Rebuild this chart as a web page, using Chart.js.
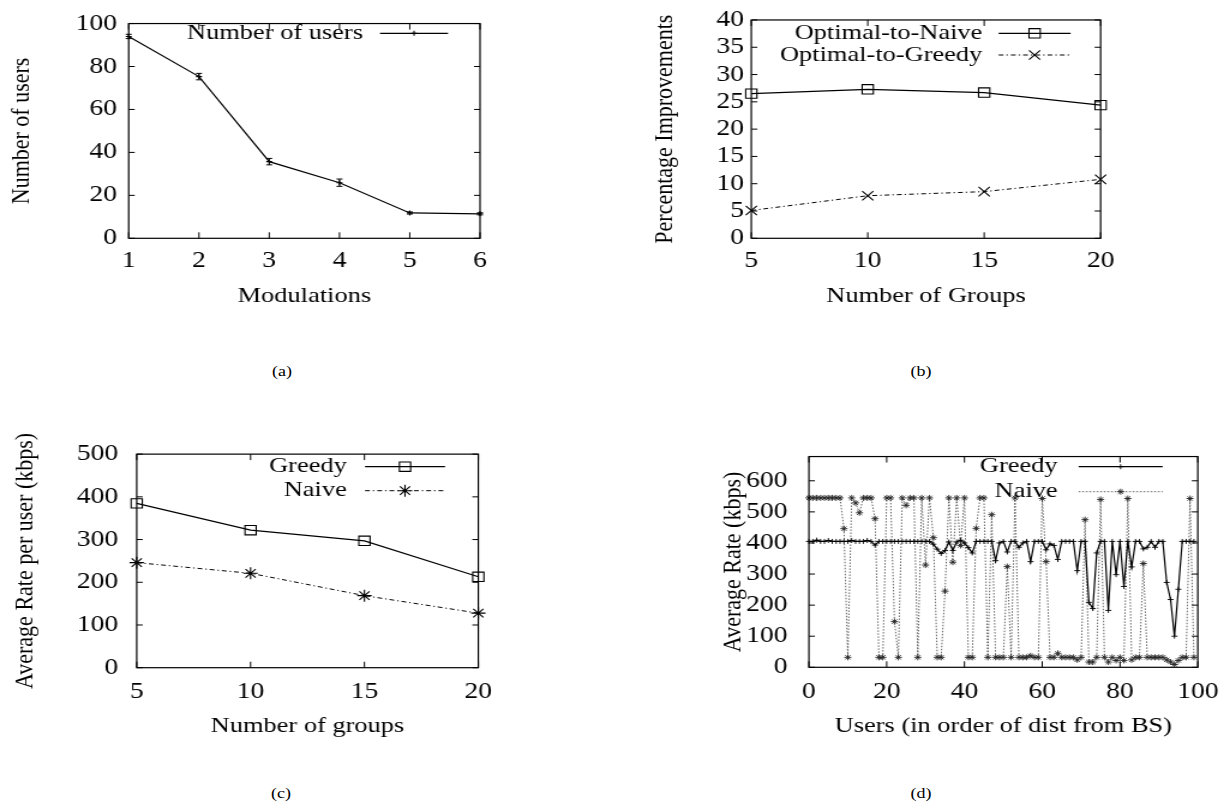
<!DOCTYPE html>
<html><head><meta charset="utf-8">
<script src="https://cdn.jsdelivr.net/npm/chart.js@4.4.1/dist/chart.umd.min.js"></script>
<style>
html,body{margin:0;padding:0;background:#fff;overflow:hidden;}
#wrap{position:absolute;left:0;top:0;height:812px;overflow:visible;background:#fff;transform-origin:0 0;}
canvas{position:absolute;}
.cap{position:absolute;font-family:'Liberation Serif','Times New Roman',serif;font-size:15px;color:#000;transform:translate(-50%,-50%);white-space:nowrap;}
</style></head><body>
<div id="wrap">
<canvas id="ca"></canvas>
<canvas id="cb"></canvas>
<canvas id="cc"></canvas>
<canvas id="cd"></canvas>
<div class="cap" data-x="282" style="top:371px">(a)</div>
<div class="cap" data-x="921" style="top:371px">(b)</div>
<div class="cap" data-x="281" style="top:793px">(c)</div>
<div class="cap" data-x="921" style="top:793px">(d)</div>
</div>
<script>
// ---------- data ----------
const modulations = [1, 2, 3, 4, 5, 6];
const usersPerModulation = [94.0, 75.3, 35.7, 25.9, 11.8, 11.4];
const usersError = [1.0, 1.5, 1.5, 1.7, 0.5, 0.5];
const xTicksA = [1, 2, 3, 4, 5, 6];
const yTicksA = [0, 20, 40, 60, 80, 100];

const groupsB = [5, 10, 15, 20];
const optimalToNaive = [26.5, 27.3, 26.7, 24.4];
const optimalToGreedy = [5.1, 7.8, 8.55, 10.8];
const xTicksB = [5, 10, 15, 20];
const yTicksB = [0, 5, 10, 15, 20, 25, 30, 35, 40];

const groupsC = [5, 10, 15, 20];
const greedyAvgRate = [384.7, 322, 297, 212.8];
const naiveAvgRate = [246, 221, 168.7, 127.7];
const xTicksC = [5, 10, 15, 20];
const yTicksC = [0, 100, 200, 300, 400, 500];

const userIndex = [
  0,1,2,3,4,5,6,7,8,9,10,11,12,13,14,15,16,17,18,19,
  20,21,22,23,24,25,26,27,28,29,30,31,32,33,34,35,36,37,38,39,
  40,41,42,43,44,45,46,47,48,49,50,51,52,53,54,55,56,57,58,59,
  60,61,62,63,64,65,66,67,68,69,70,71,72,73,74,75,76,77,78,79,
  80,81,82,83,84,85,86,87,88,89,90,91,92,93,94,95,96,97,98,99];
const greedyUserRate = [
  405,405,409,405,405,408,405,405,405,405,405,408,405,405,405,408,405,393,405,405,
  405,405,405,405,405,405,405,405,405,405,405,405,396,380,366,376,403,376,403,409,
  400,385,368,405,405,405,405,405,343,400,405,371,405,405,386,400,405,340,405,405,
  405,378,397,392,347,405,405,405,405,311,405,405,209,189,368,405,405,183,405,298,
  405,260,405,323,405,405,381,386,405,386,405,405,273,218,100,251,405,405,405,405];
const naiveUserRate = [
  545,545,545,545,545,545,545,545,545,446,32,545,529,497,545,545,545,478,32,32,
  545,545,147,32,545,521,545,545,32,545,329,545,417,32,32,245,545,338,545,392,
  545,32,32,447,545,545,32,491,32,32,32,324,32,545,32,32,32,37,32,32,
  543,340,32,32,45,32,32,32,32,24,32,475,17,17,32,540,32,17,32,22,
  32,22,543,24,32,32,334,32,32,32,32,32,24,17,9,22,32,32,543,32];
const xTicksD = [0, 20, 40, 60, 80, 100];
const yTicksD = [0, 100, 200, 300, 400, 500, 600];

// ---------- layout helpers ----------
const S = 1.2; // horizontal stretch of the original figure
const wrap = document.getElementById('wrap');
wrap.style.width = (1230 / S) + 'px';
wrap.style.transform = 'scaleX(' + S + ')';
document.querySelectorAll('.cap').forEach(d => { d.style.left = (parseFloat(d.dataset.x) / S) + 'px'; });

const FONT = "'Liberation Serif','Times New Roman',serif";
const TICK_SIZE = 23, TITLE_SIZE = 22, LEG_SIZE = 22;

function pts(xs, ys) { return xs.map((x, i) => ({x: x, y: ys[i]})); }

function marker(ctx, style, x, y, r) {
  ctx.beginPath();
  const s = r * Math.SQRT1_2;
  if (style === 'rect') { ctx.rect(x - s, y - s, 2 * s, 2 * s); }
  if (style === 'cross' || style === 'star') {
    ctx.moveTo(x - r, y); ctx.lineTo(x + r, y);
    ctx.moveTo(x, y - r); ctx.lineTo(x, y + r);
  }
  if (style === 'crossRot' || style === 'star') {
    ctx.moveTo(x - s, y - s); ctx.lineTo(x + s, y + s);
    ctx.moveTo(x + s, y - s); ctx.lineTo(x - s, y + s);
  }
  ctx.stroke();
}

const framePlugin = {
  id: 'gnuFrame',
  afterDraw(chart, args, o) {
    const {ctx, chartArea: a} = chart;
    const xs = chart.scales.x, ys = chart.scales.y;
    ctx.save();
    ctx.strokeStyle = '#000';
    ctx.lineWidth = 1.2;
    ctx.setLineDash([]);
    ctx.strokeRect(a.left, a.top, a.right - a.left, a.bottom - a.top);
    const tl = o.tickLen || 6;
    ctx.lineWidth = 1.0;
    ctx.beginPath();
    xs.ticks.forEach(t => {
      const px = xs.getPixelForValue(t.value);
      ctx.moveTo(px, a.bottom); ctx.lineTo(px, a.bottom - tl);
      ctx.moveTo(px, a.top); ctx.lineTo(px, a.top + tl);
    });
    ys.ticks.forEach(t => {
      const py = ys.getPixelForValue(t.value);
      ctx.moveTo(a.left, py); ctx.lineTo(a.left + tl / S, py);
      ctx.moveTo(a.right, py); ctx.lineTo(a.right - tl / S, py);
    });
    ctx.stroke();
    // legend, gnuplot style: text right-aligned, line sample with marker on the right
    (o.entries || []).forEach(e => {
      const ds = chart.data.datasets[e.ds];
      ctx.fillStyle = '#000';
      ctx.font = LEG_SIZE + 'px ' + FONT;
      ctx.textAlign = 'right';
      ctx.textBaseline = 'middle';
      ctx.fillText(ds.label, e.tx, e.y);
      ctx.strokeStyle = ds.borderColor;
      ctx.lineWidth = ds.borderWidth;
      ctx.setLineDash(ds.borderDash || []);
      ctx.beginPath(); ctx.moveTo(e.x1, e.y); ctx.lineTo(e.x2, e.y); ctx.stroke();
      ctx.setLineDash([]);
      ctx.strokeStyle = ds.pointBorderColor;
      ctx.lineWidth = ds.pointBorderWidth;
      marker(ctx, ds.pointStyle, (e.x1 + e.x2) / 2, e.y, ds.pointRadius);
    });
    ctx.restore();
  }
};

const errorBarPlugin = {
  id: 'errBars',
  afterDatasetsDraw(chart, args, o) {
    if (!o.err) return;
    const {ctx} = chart;
    const xs = chart.scales.x, ys = chart.scales.y;
    ctx.save();
    ctx.strokeStyle = '#000'; ctx.lineWidth = 1.0;
    ctx.beginPath();
    o.xv.forEach((xv, i) => {
      const px = xs.getPixelForValue(xv);
      const y1 = ys.getPixelForValue(o.yv[i] - o.err[i]);
      const y2 = ys.getPixelForValue(o.yv[i] + o.err[i]);
      ctx.moveTo(px, y1); ctx.lineTo(px, y2);
      ctx.moveTo(px - 2.5, y1); ctx.lineTo(px + 2.5, y1);
      ctx.moveTo(px - 2.5, y2); ctx.lineTo(px + 2.5, y2);
    });
    ctx.stroke();
    ctx.restore();
  }
};

// all x-coordinates passed here are page pixels; they are mapped into the stretched wrapper
function build(id, g) {
  const X = v => v / S;
  const r = {x: X(g.rect.x), y: g.rect.y, w: X(g.rect.w), h: g.rect.h};
  const A = {L: X(g.area.L), R: X(g.area.R), T: g.area.T, B: g.area.B};
  const cv = document.getElementById(id);
  cv.width = Math.round(r.w); cv.height = r.h;
  r.w = cv.width;
  cv.style.left = r.x + 'px'; cv.style.top = r.y + 'px';
  cv.style.width = r.w + 'px'; cv.style.height = r.h + 'px';
  const lh = TITLE_SIZE * 1.2, tlh = TICK_SIZE * 1.2;
  const yW = A.L - r.x;
  const xH = r.y + r.h - A.B;
  const entries = g.legend.map(e => ({ds: e.ds, tx: X(e.tx) - r.x, y: e.y - r.y, x1: X(e.x1) - r.x, x2: X(e.x2) - r.x}));
  return new Chart(cv, {
    type: 'line',
    data: {datasets: g.datasets},
    plugins: [framePlugin, errorBarPlugin],
    options: {
      responsive: false, animation: false, devicePixelRatio: 1,
      layout: {padding: {left: 0, top: A.T - r.y, right: r.x + r.w - A.R, bottom: 0}},
      plugins: {
        legend: {display: false}, tooltip: {enabled: false},
        gnuFrame: {entries: entries, tickLen: 6},
        errBars: g.err || {}
      },
      scales: {
        x: {
          type: 'linear', min: g.xMin, max: g.xMax,
          afterBuildTicks: s => { s.ticks = g.xTicks.map(v => ({value: v})); },
          afterFit: s => { s.height = xH; },
          grid: {display: false, drawTicks: false},
          border: {display: false},
          ticks: {color: '#000', font: {family: FONT, size: TICK_SIZE}, padding: g.xTickY - A.B - tlh / 2,
                  autoSkip: false, maxRotation: 0, includeBounds: false},
          title: {display: true, text: g.xTitle, color: '#000', font: {family: FONT, size: TITLE_SIZE},
                  padding: {top: 0, bottom: r.y + r.h - g.xTitleY - lh / 2}}
        },
        y: {
          type: 'linear', min: g.yMin, max: g.yMax,
          afterBuildTicks: s => { s.ticks = g.yTicks.map(v => ({value: v})); },
          afterFit: s => { s.width = yW; },
          grid: {display: false, drawTicks: false},
          border: {display: false},
          ticks: {color: '#000', font: {family: FONT, size: TICK_SIZE}, padding: A.L - X(g.yTickRight),
                  autoSkip: false, includeBounds: false},
          title: {display: true, text: g.yTitle, color: '#000', font: {family: FONT, size: TITLE_SIZE},
                  padding: {top: X(g.yTitleX) - r.x - lh / 2, bottom: 0}}
        }
      }
    }
  });
}

const base = {borderColor: '#000', borderWidth: 1.2, pointBorderColor: '#000', pointBackgroundColor: 'rgba(0,0,0,0)',
              pointBorderWidth: 1.1, tension: 0, clip: false, fill: false};

// (a)
build('ca', {
  rect: {x: 0, y: 0, w: 510, h: 330},
  area: {L: 128.7, R: 480, T: 16, B: 238.3},
  xMin: 1, xMax: 6, yMin: 0, yMax: 100, xTicks: xTicksA, yTicks: yTicksA,
  xTitle: 'Modulations', yTitle: 'Number of users',
  yTickRight: 117, xTickY: 261, yTitleX: 22, xTitleY: 296,
  datasets: [Object.assign({}, base, {label: 'Number of users', data: pts(modulations, usersPerModulation),
             pointStyle: 'cross', pointRadius: 2.5})],
  err: {xv: modulations, yv: usersPerModulation, err: usersError},
  legend: [{ds: 0, tx: 363, y: 33.3, x1: 380, x2: 448}]
});

// (b)
build('cb', {
  rect: {x: 615, y: 0, w: 615, h: 330},
  area: {L: 750.7, R: 1100, T: 16.7, B: 238.3},
  xMin: 5, xMax: 20, yMin: 0, yMax: 40, xTicks: xTicksB, yTicks: yTicksB,
  xTitle: 'Number of Groups', yTitle: 'Percentage Improvements',
  yTickRight: 743.3, xTickY: 261, yTitleX: 664, xTitleY: 296,
  datasets: [
    Object.assign({}, base, {label: 'Optimal-to-Naive', data: pts(groupsB, optimalToNaive), pointStyle: 'rect', pointRadius: 6.6}),
    Object.assign({}, base, {label: 'Optimal-to-Greedy', data: pts(groupsB, optimalToGreedy), pointStyle: 'crossRot', pointRadius: 6.6,
                             borderWidth: 1.0, borderDash: [4, 2.5, 1.2, 2.5]})
  ],
  legend: [{ds: 0, tx: 981.7, y: 33.3, x1: 998, x2: 1070}, {ds: 1, tx: 981.7, y: 55, x1: 998, x2: 1070}]
});

// (c)
build('cc', {
  rect: {x: 0, y: 425, w: 510, h: 330},
  area: {L: 136.7, R: 478.3, T: 452.3, B: 667.7},
  xMin: 5, xMax: 20, yMin: 0, yMax: 500, xTicks: xTicksC, yTicks: yTicksC,
  xTitle: 'Number of groups', yTitle: 'Average Rate per user (kbps)',
  yTickRight: 118.3, xTickY: 691.7, yTitleX: 25, xTitleY: 726.7,
  datasets: [
    Object.assign({}, base, {label: 'Greedy', data: pts(groupsC, greedyAvgRate), pointStyle: 'rect', pointRadius: 6.6}),
    Object.assign({}, base, {label: 'Naive', data: pts(groupsC, naiveAvgRate), pointStyle: 'star', pointRadius: 6,
                             borderWidth: 1.0, borderDash: [4, 2.5, 1.2, 2.5]})
  ],
  legend: [{ds: 0, tx: 346.7, y: 466.7, x1: 365, x2: 445}, {ds: 1, tx: 346.7, y: 490.7, x1: 365, x2: 445}]
});

// (d)
build('cd', {
  rect: {x: 615, y: 425, w: 615, h: 330},
  area: {L: 808.3, R: 1200, T: 452, B: 667.3},
  xMin: 0, xMax: 100, yMin: 0, yMax: 678, xTicks: xTicksD, yTicks: yTicksD,
  xTitle: 'Users (in order of dist from BS)', yTitle: 'Average Rate (kbps)',
  yTickRight: 787, xTickY: 691.7, yTitleX: 733, xTitleY: 726.7,
  datasets: [
    Object.assign({}, base, {label: 'Greedy', data: pts(userIndex, greedyUserRate), pointStyle: 'cross', pointRadius: 2.5,
                             borderWidth: 1.2, pointBorderWidth: 0.9}),
    Object.assign({}, base, {label: 'Naive', data: pts(userIndex, naiveUserRate), pointStyle: 'star', pointRadius: 3,
                             borderColor: '#555', borderWidth: 0.9, borderDash: [1.5, 1.5], pointBorderColor: '#222', pointBorderWidth: 0.9})
  ],
  legend: [{ds: 0, tx: 1057, y: 466.7, x1: 1078, x2: 1162}, {ds: 1, tx: 1057, y: 491.7, x1: 1078, x2: 1162}]
});
</script>
</body></html>
